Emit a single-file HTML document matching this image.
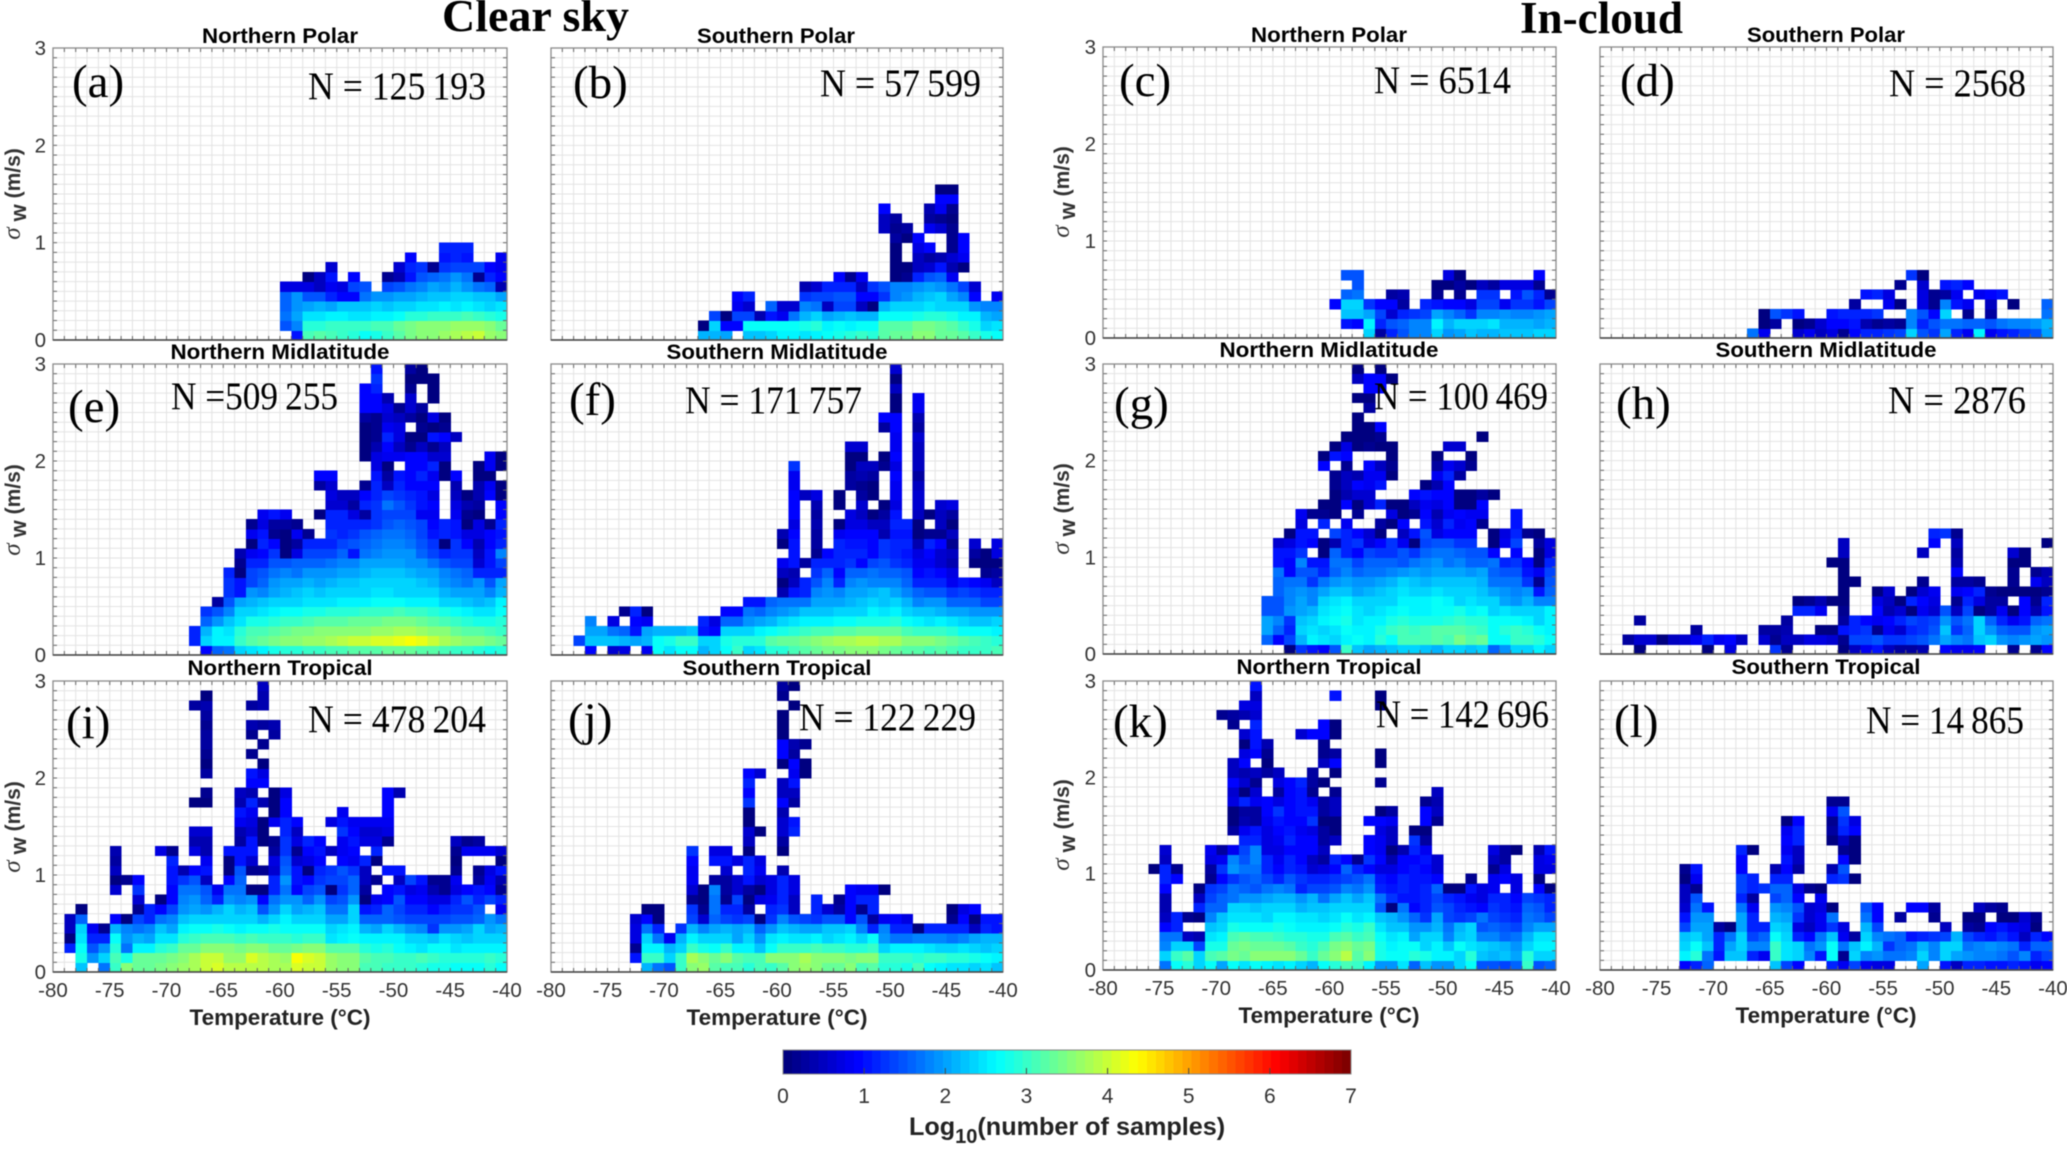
<!DOCTYPE html>
<html lang="en">
<head>
<meta charset="utf-8">
<title>Vertical velocity variance by temperature</title>
<style>
html,body{margin:0;padding:0;background:#fff;width:2067px;height:1149px;overflow:hidden}
svg{display:block;filter:blur(.45px)}
.big{font-family:"Liberation Serif",serif;font-weight:bold;font-size:45px;fill:#000}
.ttl{font-family:"Liberation Sans",sans-serif;font-weight:bold;font-size:21px;fill:#000;text-anchor:middle}
.tag{font-family:"Liberation Serif",serif;font-size:47px;fill:#000}
.cnt{font-family:"Liberation Serif",serif;font-size:39px;fill:#000}
.xl{font-family:"Liberation Sans",sans-serif;font-weight:bold;font-size:22.5px;fill:#222;text-anchor:middle}
.yl{font-family:"Liberation Sans",sans-serif;font-weight:bold;font-size:21px;fill:#333;text-anchor:middle}
.tk{font-family:"Liberation Sans",sans-serif;font-size:20.5px;fill:#333}
.cbk{font-family:"Liberation Sans",sans-serif;font-size:21px;fill:#333}
</style>
</head>
<body>
<svg id="fig" xmlns="http://www.w3.org/2000/svg" width="2067" height="1149" viewBox="0 0 2067 1149">
<rect width="2067" height="1149" fill="#fff"/>
<g id="plots"></g>
<g id="colorbar"></g>

<text class="big" x="442" y="31" textLength="187" lengthAdjust="spacingAndGlyphs">Clear sky</text>
<text class="big" x="1520" y="33" textLength="163" lengthAdjust="spacingAndGlyphs">In-cloud</text>

<text class="ttl" x="280" y="43" textLength="156" lengthAdjust="spacingAndGlyphs">Northern Polar</text>
<text class="ttl" x="776" y="43" textLength="158" lengthAdjust="spacingAndGlyphs">Southern Polar</text>
<text class="ttl" x="1329" y="42" textLength="156" lengthAdjust="spacingAndGlyphs">Northern Polar</text>
<text class="ttl" x="1826" y="42" textLength="158" lengthAdjust="spacingAndGlyphs">Southern Polar</text>
<text class="ttl" x="280" y="359" textLength="219" lengthAdjust="spacingAndGlyphs">Northern Midlatitude</text>
<text class="ttl" x="777" y="359" textLength="221" lengthAdjust="spacingAndGlyphs">Southern Midlatitude</text>
<text class="ttl" x="1329" y="357" textLength="219" lengthAdjust="spacingAndGlyphs">Northern Midlatitude</text>
<text class="ttl" x="1826" y="357" textLength="221" lengthAdjust="spacingAndGlyphs">Southern Midlatitude</text>
<text class="ttl" x="280" y="675" textLength="185" lengthAdjust="spacingAndGlyphs">Northern Tropical</text>
<text class="ttl" x="777" y="675" textLength="189" lengthAdjust="spacingAndGlyphs">Southern Tropical</text>
<text class="ttl" x="1329" y="674" textLength="185" lengthAdjust="spacingAndGlyphs">Northern Tropical</text>
<text class="ttl" x="1826" y="674" textLength="189" lengthAdjust="spacingAndGlyphs">Southern Tropical</text>

<text class="tag" x="72" y="97">(a)</text>
<text class="tag" x="573" y="98">(b)</text>
<text class="tag" x="1119" y="96">(c)</text>
<text class="tag" x="1620" y="96">(d)</text>
<text class="tag" x="68" y="422">(e)</text>
<text class="tag" x="569" y="415">(f)</text>
<text class="tag" x="1114" y="419">(g)</text>
<text class="tag" x="1616" y="419">(h)</text>
<text class="tag" x="66" y="738">(i)</text>
<text class="tag" x="568" y="735">(j)</text>
<text class="tag" x="1113" y="737">(k)</text>
<text class="tag" x="1614" y="737">(l)</text>

<text class="cnt" x="308" y="99" textLength="178" lengthAdjust="spacingAndGlyphs">N = 125&#8201;193</text>
<text class="cnt" x="820" y="96" textLength="161" lengthAdjust="spacingAndGlyphs">N = 57&#8201;599</text>
<text class="cnt" x="1374" y="93" textLength="137" lengthAdjust="spacingAndGlyphs">N = 6514</text>
<text class="cnt" x="1889" y="96" textLength="137" lengthAdjust="spacingAndGlyphs">N = 2568</text>
<text class="cnt" x="171" y="409" textLength="167" lengthAdjust="spacingAndGlyphs">N =509&#8201;255</text>
<text class="cnt" x="685" y="413" textLength="177" lengthAdjust="spacingAndGlyphs">N = 171&#8201;757</text>
<text class="cnt" x="1374" y="409" textLength="174" lengthAdjust="spacingAndGlyphs">N = 100&#8201;469</text>
<text class="cnt" x="1888" y="413" textLength="138" lengthAdjust="spacingAndGlyphs">N = 2876</text>
<text class="cnt" x="308" y="732" textLength="178" lengthAdjust="spacingAndGlyphs">N = 478&#8201;204</text>
<text class="cnt" x="799" y="730" textLength="177" lengthAdjust="spacingAndGlyphs">N = 122&#8201;229</text>
<text class="cnt" x="1376" y="727" textLength="173" lengthAdjust="spacingAndGlyphs">N = 142&#8201;696</text>
<text class="cnt" x="1866" y="733" textLength="158" lengthAdjust="spacingAndGlyphs">N = 14&#8201;865</text>

<text class="xl" x="280" y="1025" textLength="181" lengthAdjust="spacingAndGlyphs">Temperature (°C)</text>
<text class="xl" x="777" y="1025" textLength="181" lengthAdjust="spacingAndGlyphs">Temperature (°C)</text>
<text class="xl" x="1329" y="1023" textLength="181" lengthAdjust="spacingAndGlyphs">Temperature (°C)</text>
<text class="xl" x="1826" y="1023" textLength="181" lengthAdjust="spacingAndGlyphs">Temperature (°C)</text>

<text class="yl" transform="translate(20,194) rotate(-90)"><tspan font-family="Liberation Serif" font-style="italic" font-weight="normal" font-size="25">σ</tspan><tspan dy="6" font-size="22"> w</tspan><tspan dy="-6"> (m/s)</tspan></text>
<text class="yl" transform="translate(1069,192) rotate(-90)"><tspan font-family="Liberation Serif" font-style="italic" font-weight="normal" font-size="25">σ</tspan><tspan dy="6" font-size="22"> w</tspan><tspan dy="-6"> (m/s)</tspan></text>
<text class="yl" transform="translate(20,510) rotate(-90)"><tspan font-family="Liberation Serif" font-style="italic" font-weight="normal" font-size="25">σ</tspan><tspan dy="6" font-size="22"> w</tspan><tspan dy="-6"> (m/s)</tspan></text>
<text class="yl" transform="translate(1069,509) rotate(-90)"><tspan font-family="Liberation Serif" font-style="italic" font-weight="normal" font-size="25">σ</tspan><tspan dy="6" font-size="22"> w</tspan><tspan dy="-6"> (m/s)</tspan></text>
<text class="yl" transform="translate(20,827) rotate(-90)"><tspan font-family="Liberation Serif" font-style="italic" font-weight="normal" font-size="25">σ</tspan><tspan dy="6" font-size="22"> w</tspan><tspan dy="-6"> (m/s)</tspan></text>
<text class="yl" transform="translate(1069,825) rotate(-90)"><tspan font-family="Liberation Serif" font-style="italic" font-weight="normal" font-size="25">σ</tspan><tspan dy="6" font-size="22"> w</tspan><tspan dy="-6"> (m/s)</tspan></text>

<text x="909" y="1135" font-family="Liberation Sans" font-weight="bold" font-size="25.2" fill="#222">Log<tspan dy="8" font-size="20">10</tspan><tspan dy="-8">(number of samples)</tspan></text>
</svg>

<script>
// Each panel: one list per temperature bin (-80 to -40 °C, 1 °C wide).
// Each list: log10(sample count) per sigma-w bin from 0 m/s upward (0.1 m/s wide); _ means no samples.
const _ = null;

const valuesA = [
[],[],[],[],[],[],[],[],[],[],[],[],[],[],[],[],[],[],[],[],
[_,1.5,1.7,1.6,1.6,.7],
[1.0,1.8,2.0,1.9,1.9,.7],
[3.1,2.9,2.5,2.0,1.5,.7,.1],
[3.2,2.9,2.5,2.1,1.5,.5,.5],
[3.1,3.0,2.6,2.0,1.2,.8,1.0,.6],
[3.0,3.0,2.6,2.2,.9,.7],
[2.9,3.0,2.5,2.2,.9,1.4,.9],
[2.7,3.0,2.5,2.2,1.7,1.5],
[2.8,3.1,2.6,2.3,1.9],
[3.0,3.1,2.6,2.2,1.9,1.4,.2],
[3.2,3.3,2.7,2.3,2.0,1.5,.4,.6],
[3.4,3.4,2.9,2.4,2.0,1.7,1.0,1.2,.9],
[3.5,3.5,2.9,2.5,2.1,1.8,1.5,1.3],
[3.6,3.5,3.0,2.5,2.2,2.0,1.6,.2],
[3.7,3.5,3.0,2.6,2.2,1.9,1.7,1.3,1.0,1.1],
[3.8,3.7,3.0,2.5,2.3,2.1,1.9,1.4,1.1,1.2],
[3.9,3.7,3.1,2.6,2.4,1.9,1.7,1.4,1.0,1.1],
[4.0,3.7,3.0,2.5,2.2,1.7,.2,1.4],
[3.7,3.5,2.9,2.4,2.2,1.6,1.2,.9],
[3.6,3.3,2.8,2.5,2.0,.4,.9,.8,.8]
];

const valuesB = [
[],[],[],[],[],[],[],[],[],[],[],[],[],
[2.1,.1],
[2.1,2.4,1.4],
[2.0,.9,.1],
[_,.9,1.4,.8,.9],
[2.2,2.7,1.4,.6,1.2],
[2.2,2.7,.4],
[2.4,2.7,1.0,1.6],
[2.6,2.7,.8,.6],
[2.6,2.7,1.7,.6],
[2.5,2.8,2.1,1.8,1.3,.4],
[2.6,2.9,2.3,1.7,1.4,.6],
[2.7,2.6,2.0,.5,1.4,1.2],
[2.8,2.7,2.1,1.4,1.5,1.2,.9],
[2.9,2.6,2.2,1.4,1.5,1.2,.2],
[3.0,2.7,2.1,.5,.9,.5,.8],
[2.9,2.7,2.1,.1,.9,1.3],
[3.2,3.2,2.7,2.1,1.3,1.5,_,_,_,_,_,.5,.5,.9],
[3.3,3.2,2.7,2.3,1.8,1.8,.1,0,0,0,.3,.2,.3],
[3.3,3.2,2.7,2.3,1.9,1.8,.2,.1,_,_,.1,.3],
[3.5,3.4,2.8,2.4,2.1,1.9,1.2,.5,.5,.7,.9],
[3.5,3.4,2.9,2.5,2.2,2.0,1.5,.6,.3,.9,_,.8,.3,.4],
[3.3,3.3,2.9,2.4,2.3,1.9,1.6,1.0,.4,_,_,.6,.2,.8,.9,0],
[3.3,3.2,2.8,2.4,2.0,1.7,.8,.4,.6,.2,.2,.2,.1,.2,.9,0],
[3.2,3.0,2.6,2.3,1.8,1.4,_,.1,.8,.9,.9],
[3.0,2.8,2.6,1.9,.9,.6],
[2.8,2.4,2.1,1.8],
[2.7,2.5,2.0,1.8,.8]
];

const valuesC = [
[],[],[],[],[],[],[],[],[],[],[],[],[],[],[],[],[],[],[],[],
[_,_,_,.9],
[_,1.0,2.2,2.3,1.6,_,1.5],
[_,.9,2.2,2.3,1.7,1.5,1.5],
[2.4,2.6,2.0,1.3],
[.3,1.2,1.4,.9],
[1.2,1.5,.6,.9,.3],
[1.5,1.6,1.2,.3,.4],
[1.8,1.8,1.3],
[1.8,1.8,1.4,1.1],
[2.3,2.6,2.0,1.0,.2,.1],
[1.9,2.1,1.8,.9,_,.1,.7],
[2.0,2.3,1.6,.9,.2,.3,.1],
[2.2,2.3,1.3,.7,_,.1],
[2.1,2.3,1.8,1.4,1.3,.5],
[2.1,2.5,1.8,1.4,1.3,.3],
[2.2,2.1,1.9,.8,_,.7],
[2.2,2.1,1.8,1.3,1.0,.7],
[2.2,2.1,1.8,1.3,1.5,.7],
[2.3,2.0,1.9,1.0,1.1,.2,.9],
[2.3,2.1,2.0,1.4,.2]
];

const valuesD = [
[],[],[],[],[],[],[],[],[],[],[],[],[],
[1.7],
[.8,.1,.1],
[_,.3,1.5],
[_,_,1.3],
[.6,.1,1.0],
[.8,.2],
[.5,.6],
[.7,.9,1.0],
[.2,.9,1.2],
[.9,1.0,1.2,.3],
[1.2,.4,1.1,_,1.0],
[1.2,.2,1.3,_,1.2],
[1.3,.3,_,.8,.7],
[1.4,.2,_,.1,_,.2],
[2.4,1.8,1.8,_,_,_,1.3],
[1.5,1.2,1.5,.7,.7,.6,.1],
[1.3,1.5,.9,.2,.2],
[2.0,1.7,2.4,1.8,.3,1.0],
[1.2,1.7,_,1.0,.8,1.1],
[.8,1.6,.2,.8,_,.9],
[2.6,1.6,_,_,.8],
[.8,1.5,.3,.5,.9],
[1.0,1.7,_,_,1.0],
[1.1,1.8,_,.1],
[1.4,1.8],
[1.5,1.9],
[2.0,2.1,1.7,1.6]
];

const valuesE = [
[],[],[],[],[],[],[],[],[],[],[],[],
[_,1.2,1.1],
[.9,2.3,2.1,1.6,1.3],
[1.6,2.6,2.6,1.9,1.5,.3],
[1.7,2.6,2.5,2.2,1.8,1.5,1.3,1.3,1.2],
[2.3,3.0,2.9,2.5,2.3,2.0,1.0,1.0,0,.2,.4],
[2.5,3.2,3.1,2.8,2.4,2.1,1.9,1.4,1.4,1.2,.8,.1,.8,.2],
[2.6,3.3,3.1,2.8,2.5,2.2,1.8,1.6,1.5,1.1,.9,1.1,1.0,.7,.8],
[2.8,3.4,3.2,2.9,2.6,2.3,2.0,1.9,1.7,1.5,1.3,.9,.2,.3,1.0],
[2.9,3.5,3.3,3.0,2.7,2.4,2.1,2.0,1.8,1.5,.1,0,0,.3,.8],
[2.9,3.6,3.4,3.0,2.7,2.4,2.2,2.0,1.7,1.6,.7,.3,.8,.2],
[3.0,3.7,3.4,3.1,2.8,2.5,2.3,2.1,1.9,1.6,1.4,1.1,.2],
[3.0,3.7,3.5,3.2,2.8,2.5,2.2,2.0,1.9,1.6,1.4,1.1,_,_,0,_,_,.3,.9],
[3.1,3.8,3.5,3.2,2.9,2.5,2.3,2.1,1.9,1.7,1.4,1.2,1.3,1.1,1.1,.6,.7,.6,.9],
[3.1,3.9,3.6,3.2,2.9,2.6,2.3,2.2,2.0,1.8,1.6,1.4,1.2,1.2,1.2,.6,.5],
[3.2,4.0,3.6,3.3,2.9,2.6,2.4,2.2,2.0,1.8,1.0,1.5,1.3,1.1,.7,.3,.5],
[3.2,4.0,3.6,3.3,3.0,2.6,2.4,2.3,2.1,2.0,1.7,1.6,1.5,1.1,.3,1.1,.9,.2,_,_,.1,0,0,.1,.3,.9,.9,.9],
[3.2,4.1,3.7,3.3,3.0,2.7,2.5,2.3,2.2,2.0,1.8,1.7,1.6,1.3,1.3,1.3,1.2,1.2,1.0,.7,.7,.4,.2,.2,.2,.9,.9,1.2,1.3,1.0],
[3.3,4.1,3.7,3.4,3.0,2.7,2.5,2.3,2.2,2.0,1.9,1.8,1.7,1.5,1.4,1.7,1.4,.5,.3,.1,.8,.9,1.1,.8,.6,.7,.4],
[3.3,4.2,3.8,3.4,3.1,2.7,2.4,2.3,2.2,2.0,1.9,1.8,1.7,1.6,1.4,1.5,1.3,1.1,1.0,_,.8,.5,.7,.7,.5,.2],
[3.3,4.3,3.8,3.4,3.0,2.6,2.4,2.3,2.1,1.9,1.9,1.7,1.6,1.5,1.4,1.3,1.2,.9,.9,.9,.9,.2,.1,_,.3,.6,.6,.2,.1,.3],
[3.2,4.2,3.7,3.3,3.0,2.6,2.4,2.2,2.0,1.9,1.6,1.5,1.4,1.4,.8,1.0,1.0,.9,1.2,.9,.9,.5,0,.2,.1,.3,_,_,.1,.1],
[3.2,4.0,3.6,3.2,2.9,2.6,2.3,2.1,2.0,1.7,1.4,1.3,1.0,.9,.8,.9,.7,.9,.8,1.2,.6,.2,1.0,.1,.7,_,0,.1,0],
[3.1,3.8,3.5,3.1,2.8,2.4,2.1,1.9,1.8,1.5,1.2,.1,1.1,1.1,_,_,_,_,0,0,.6,.5,.9,.2,.1],
[3.0,3.7,3.3,3.0,2.7,2.3,2.0,1.8,1.7,1.4,1.3,1.3,1.0,1.0,.8,.7,.5,.4,.9,_,_,_,.5],
[3.0,3.6,3.2,2.9,2.6,2.2,2.0,1.7,1.6,1.4,1.3,.9,.7,.1,.2,.4,.1],
[2.9,3.5,3.2,2.8,2.5,2.1,2.0,1.9,1.2,.6,.5,.4,.7,.7,.1,.3,.4,.4,.1,0],
[2.8,3.4,3.1,2.8,2.5,2.2,1.8,1.5,1.1,1.0,1.0,.9,.9,.2,_,_,.9,.8,.1,.8,.8],
[2.9,3.3,3.0,2.9,2.7,2.6,2.1,2.0,1.2,1.4,1.8,1.1,1.0,1.2,.9,.9,0,.1,_,0,0]
];

const valuesF = [
[],[],
[_,1.4],
[.9,2.2,2.0,1.8],
[_,2.2,2.0],
[.6,2.2,1.7,.7],
[.7,2.1,1.6,_,.2],
[_,2.0,1.0,.9,1.2],
[.8,2.1,2.0,.8,0],
[2.7,2.7,2.1],
[2.5,2.8,2.1],
[2.7,3.0,2.1],
[2.7,3.0,2.2],
[2.1,2.3,1.0,1.1],
[2.4,2.4,.9,.7],
[2.7,2.8,2.4,1.6,.9],
[3.0,2.9,2.4,1.6,.9],
[2.3,2.9,2.3,1.9,1.7,1.0],
[2.5,2.9,2.6,2.0,1.6,1.0],
[2.9,3.2,2.7,2.1,1.8,1.6],
[2.9,3.3,2.8,2.3,1.9,1.7,.4,.1,.5,.8,_,0,.4],
[3.1,3.3,2.9,2.5,2.0,1.7,1.0,.5,.4,1.0,1.0,1.0,.9,.7,.9,.9,.9,.8,.8,1.3],
[3.2,3.4,3.0,2.6,2.2,1.7,1.1,1.2,_,.3,_,_,_,_,_,_,.5],
[3.3,3.5,3.1,2.6,2.2,2.0,1.8,1.5,1.3,1.2,.2,.3,.3,.4,.3,.4,.7],
[3.4,3.7,3.1,2.6,2.2,2.0,1.9,1.8,1.6,1.2,.9],
[3.4,3.8,3.2,2.7,2.3,2.0,1.8,1.1,.9,1.2,1.1,1.2,.8,.1,_,0,.1],
[3.5,3.8,3.2,2.7,2.3,2.1,2.0,1.8,1.6,1.3,1.2,1.0,.9,.7,.7,_,_,.3,.3,0,.1,.6],
[3.5,3.9,3.3,2.8,2.4,2.2,2.0,1.9,1.6,.9,1.2,1.0,.9,.7,.5,.6,.3,.2,.4,.5,.1,.6],
[3.5,3.9,3.3,2.8,2.6,2.3,2.1,1.8,1.7,1.4,.9,.9,.9,.5,.1,_,.1,0,.3,.5],
[3.4,3.8,3.3,2.8,2.5,2.2,2.2,1.8,1.6,1.5,1.3,1.3,.4,.5,.3,.1,_,_,_,.2,.1,_,_,.3,.9],
[3.3,3.8,3.3,2.9,2.6,2.4,2.0,1.8,1.6,1.3,1.2,1.1,1.0,1.1,1.0,.7,.8,.8,.9,.7,.9,.8,.8,.9,.9,.1,0,.5,.1,.6],
[3.2,3.6,3.1,2.7,2.4,2.1,1.8,1.6,1.5,1.2,1.0,1.1,1.0,1.1],
[3.2,3.5,3.0,2.6,2.2,1.8,1.6,1.1,.9,.8,.7,.4,.1,.1,.5,.6,.6,.5,.3,.5,.5,.5,.6,.3,.4,.8,.8],
[3.1,3.5,3.0,2.5,2.2,1.9,1.5,1.2,1.0,.8,.9,1.1,.2,_,.1],
[3.2,3.4,3.0,2.6,2.1,1.9,1.5,1.1,.9,.6,.6,.9,.2,.5,.5,.6],
[3.1,3.3,2.9,2.5,2.0,1.6,1.3,.8,.7,.4,.5,.2,.5,.1,.3,.7],
[3.0,3.2,2.7,2.3,2.0,1.6,1.4,1.0],
[3.0,3.1,2.7,2.2,1.9,1.6,1.3,.9,_,.1,.3,.6],
[3.0,3.0,2.7,2.2,1.9,1.4,1.2,.8,.2,.1,0],
[3.1,2.9,2.6,2.3,1.9,1.4,1.2,.5,.3,.1,.7,.7]
];

const valuesG = [
[],[],[],[],[],[],[],[],[],[],[],[],[],[],
[_,1.6,2.0,2.0,1.5,1.5],
[_,.9,1.6,1.8,1.5,1.5,1.6,1.6,1.7,1.0,1.0,.6],
[.1,1.4,1.2,1.3,1.9,1.8,1.8,1.7,.9,.9,1.0,.7,.1],
[1.3,2.1,2.3,2.2,2.0,2.0,1.9,1.7,1.5,1.8,1.3,1.0,1.0,.7,.8],
[1.0,2.6,2.5,2.4,2.1,1.8,1.8,1.3,1.5,1.0,_,.9,1.0,_,.2],
[.9,2.5,2.4,2.6,2.5,2.3,2.0,1.7,1.2,1.0,.1,.1,_,1.1,.2,.1,_,_,_,.9,.1],
[1.5,2.4,2.5,2.7,2.6,2.5,2.2,1.9,1.6,1.7,1.6,.4,1.4,_,.1,.1,.1,.2,.2,_,1.0,.1],
[3.0,2.6,2.7,2.8,2.7,2.6,2.2,2.0,1.8,1.7,1.1,1.2,1.1,.8,_,.9,.4,.5,.5,.2,.9,.7,.1],
[2.2,2.7,2.6,2.5,2.5,2.4,2.0,1.9,1.6,1.4,.9,1.3,.9,_,.2,.1,.6,.9,.4,_,_,.1,.1,.1,.1,_,0,_,.5,.1],
[2.0,2.6,2.6,2.6,2.4,2.3,2.1,1.9,1.7,1.6,1.4,.7,.6,_,_,.6,.6,.8,.8,.9,_,.2,0,.1,_,.3,.1,.9,.9],
[2.1,2.9,2.8,2.6,2.5,2.4,2.2,2.0,1.7,1.6,1.3,.9,0,.3,_,1.2,_,1.0,.8,.5,_,.1,.2,.9,_,_,_,.9,.9,.1],
[2.2,2.7,3.0,2.8,2.6,2.4,2.3,2.1,1.8,1.6,1.3,1.3,_,.1,.7,.1,_,_,.1,.2,.1,.1,_,_,_,_,_,_,.1],
[2.4,3.1,3.1,2.9,2.7,2.6,2.5,2.3,1.9,1.5,1.5,.8,.5,.9,.1,.1],
[2.3,3.1,3.0,2.8,2.6,2.6,2.3,2.2,2.0,1.7,1.3,.1,1.0,_,.2,.5,.9],
[2.2,3.1,3.1,2.8,2.6,2.6,2.4,2.1,1.9,1.8,1.6,1.4,1.5,1.0,.9,.8,1.0,.1],
[2.1,3.2,3.2,2.8,2.7,2.7,2.5,2.2,2.0,1.9,1.7,1.5,.7,.6,.4,.7,.9,.4,.8,.3,.1],
[2.3,3.1,3.2,2.9,2.7,2.6,2.4,2.2,2.0,1.7,1.7,1.5,.9,1.1,.8,.9,.9,.9,1.2,.8,_,.6],
[2.3,3.4,3.2,3.0,2.8,2.4,2.3,2.2,2.0,1.8,1.6,1.3,.9,.8,.9,.1,.1,_,.3,.6,_,.6],
[2.2,3.2,3.1,2.9,2.6,2.5,2.3,2.2,1.9,1.6,1.5,1.3,.9,.9,.8,.1,.1,_,_,.2,.1],
[2.4,3.3,3.0,2.9,2.7,2.4,2.2,2.1,2.0,1.6,1.5,_,_,.2,.8,.9,.3,_,_,_,_,_,.1],
[1.6,2.7,2.7,2.7,2.4,2.3,2.0,1.7,1.6,1.7,.9,.1,.1,_,_,_,.1],
[1.9,2.7,2.9,2.7,2.5,2.0,1.9,1.7,1.5,1.2,_,.8,.7],
[2.4,3.0,3.0,2.7,2.4,1.9,1.8,1.7,1.5,1.3,.9,1.4,1.2,1.0,1.0],
[2.3,3.0,2.9,2.6,2.4,2.1,1.9,1.3,1.0,.9,_,_,.2],
[2.6,2.9,2.7,2.4,2.4,1.8,1.0,.2,.8,.1,.1,.3,.1],
[2.4,2.7,2.6,2.6,2.6,1.8,1.6,1.5,1.4,1.2,.7,.7]
];

const valuesH = [
[],[],
[_,.3],
[0,.6,_,.3],
[_,.6],
[_,.1],
[_,.5],
[_,.6],
[_,.8,.3],
[.1,1.2],
[_,.8],
[.7,.9],
[_,.5],
[],
[_,.6,.3],
[1.3,.2,.3],
[.2,.5,.4,.3],
[_,.5,_,_,1.2,.1],
[_,.7,_,_,1.2,.2],
[_,.7,.1,_,.8,.4],
[_,.6,.1,_,_,.1,_,_,_,.1],
[.1,.2,1.0,.3,.2,.1,.1,.1,.1,.1,.5,.5],
[.5,1.4,1.2,1.2,_,_,_,.1],
[.8,1.4,1.3,.9],
[1.0,1.5,.2,.8,.9,.7,.1],
[.5,1.3,.8,.9,.4,.5,.6],
[.3,1.3,.6,1.2,.6,.1],
[.3,1.4,1.2,1.4,0,1.1,.1],
[.4,1.5,1.3,1.3,.8,.9,.6,.2,_,_,.5],
[_,1.7,1.5,1.4,.6,.7,.8,_,_,_,_,.9,1.2],
[.9,2.0,2.2,1.9,1.5,_,_,_,_,_,_,_,1.3],
[.8,1.8,1.3,1.5,.5,.2,.8,.3,.9,.4,.3,.5,.2],
[.8,1.7,1.6,1.7,1.4,1.2,.9,.3],
[.9,2.2,2.4,2.3,0,.7,1.1,.2],
[_,2.4,1.9,1.6,.3,.3,.2],
[_,1.9,1.6,1.1,.8,.3,.1],
[.2,1.8,1.5,.8,.1,_,.1,.2,.2,.1,.6],
[_,1.9,1.5,1.0,.9,.9,.1,_,_,.1,.1],
[.2,2.0,1.9,1.6,.4,.2,.1,.8,.2],
[.9,1.9,2.0,1.7,1.0,1.1,.2,.5,.4,_,_,0]
];

const valuesI = [
[],
[_,_,1.2,.1,.5,.5],
[2.2,2.8,2.7,2.5,2.4,1.6,.1],
[_,1.9,1.5,1.2,.8],
[1.7,2.3,1.9,1.1,.2],
[3.0,3.1,2.9,2.7,2.1,.9,_,_,.6,.1,.5,.3,.4],
[3.5,2.8,1.7,1.9,1.8,.1,_,_,_,.2],
[3.3,3.3,2.6,2.1,1.7,1.4,.2,.6,1.3,.9],
[3.3,3.3,2.6,2.0,1.8,1.2,1.1],
[3.4,3.3,2.9,2.5,2.2,1.7,.9,.1,_,_,_,_,.7],
[3.5,3.4,3.0,2.5,2.0,1.8,1.4,.9,.9,1.0,1.0,1.1,.2],
[3.7,3.6,3.3,2.9,2.6,2.2,1.9,1.8,1.7,1.3,.4],
[3.8,3.8,3.3,3.0,2.7,2.3,2.0,1.9,1.7,1.5,.9,_,.7,.4,.6,_,_,.1,_,_,_,_,_,_,_,_,_,.3],
[4.0,4.0,3.6,3.1,2.7,2.4,1.9,1.6,1.5,.5,1.0,.8,.4,.4,.6,_,_,.1,.2,_,.3,.1,.2,.3,.3,.2,.3,.4,.1],
[4.1,4.0,3.6,3.1,2.8,2.4,2.1,1.1,.8],
[3.9,3.7,3.5,3.1,2.7,2.4,2.4,1.9,1.7,.9,.1,.1,1.0],
[3.9,3.7,3.4,3.0,2.6,2.4,2.1,1.8,1.7,1.6,1.5,1.0,1.0,.3,.4,.8,1.0,.4,.5],
[3.9,4.1,3.6,3.1,2.7,2.4,2.2,1.9,.1,_,.2,.6,1.0,1.0,.6,.7,.8,1.1,.4,.9,1.0,_,.2,_,.2,.4,_,.3],
[3.9,3.9,3.5,3.0,2.7,2.1,1.5,.9,.1,_,.2,_,_,.1,.1,0,_,.4,_,.9,.7,.1,_,.2,_,.3,_,.4,.4,.5],
[3.8,3.8,3.3,3.0,2.8,2.4,1.9,1.7,1.2,1.1,.6,.7,.3,.2,_,.8,.1,0,.1,_,_,_,_,_,.3,.4],
[3.8,3.7,3.3,3.0,2.7,2.6,2.3,1.9,1.7,1.9,1.6,1.5,1.3,1.3,1.2,1.1,.9,.9,.7],
[4.1,4.3,3.4,2.9,2.7,2.3,2.0,1.9,.9,1.0,1.0,.6,.2,.7,.5,.9],
[4.0,4.1,3.5,3.0,2.7,2.4,2.1,1.6,1.4,.9,.1,.7,.9,1.2],
[4.0,4.0,3.5,3.0,2.7,2.4,2.2,1.9,1.5,1.3,1.1,.9,1.0,.9],
[3.7,3.7,3.2,2.5,2.3,2.0,1.7,1.4,0,1.4,1.3,_,.5,_,_,.7],
[3.6,3.6,3.2,2.6,2.5,2.0,1.7,1.5,1.3,1.4,1.5,.9,.8,.8,1.3,1.0,.8],
[3.5,3.6,3.2,2.7,2.6,2.4,2.3,1.9,1.6,1.6,1.3,.8,.9,1.0,.9,.8],
[3.1,3.2,2.9,2.6,2.1,1.6,1.0,.1,.3,.5,.5,1.1,_,.7,.6,.8],
[3.1,3.1,2.8,2.6,2.0,1.6,1.2,.8,_,.2,_,.1,1.1,.7,.6,.8],
[3.0,3.1,2.9,2.6,2.3,1.6,1.6,.9,.9,_,1.0,_,_,.2,.7,.8,.9,.9,.9],
[3.0,3.0,2.7,2.6,2.1,1.5,1.4,1.5,1.0,.5,1.0,_,_,_,_,_,_,_,.4],
[3.0,3.0,2.6,2.3,1.9,1.4,1.2,.9,.7,1.4],
[2.9,3.1,2.5,2.3,1.8,1.4,1.1,.9,.8,1.0],
[2.8,3.0,2.7,2.2,1.3,1.4,.9,.7,.4,.2],
[2.8,2.9,2.7,2.5,1.9,1.4,1.1,.7,.2,.2],
[2.7,2.9,2.5,2.3,1.9,1.5,1.3,1.2,.7,.8,.2,.1,.2,.5],
[2.7,2.9,2.6,2.2,2.0,1.5,1.3,1.5,.9,_,_,_,.8,.2],
[2.7,2.9,2.6,2.4,2.3,1.6,1.5,1.2,1.0,.3,.2,_,.8,.3],
[2.9,3.0,2.6,2.4,2.0,1.9,_,1.4,.9,.8,.7,_,.8],
[2.7,2.9,2.6,2.4,2.1,1.7,.8,1.1,.2,.4,1.0,.1,.6]
];

const valuesJ = [
[],[],[],[],[],[],[],
[_,1.0,.2,.7,.7,.6],
[2.1,3.0,2.6,2.4,1.7,.9,.1],
[1.7,3.0,2.6,1.7,1.1,.1,.1],
[1.5,2.4,2.1,.8],
[3.0,3.0,2.3,2.1,1.3],
[3.6,3.8,3.0,2.6,2.1,1.4,1.3,.2,.6,.8,.8,.9,1.3],
[3.7,3.6,2.8,2.4,1.8,.6,.2,0,.1],
[3.2,3.3,2.7,2.3,2.0,1.6,1.7,1.7,1.8,.3,_,1.0,.7],
[3.1,3.5,3.0,2.4,2.1,1.4,1.1,.2,.3,.3,.6,1.0,.7],
[3.1,3.2,2.6,2.0,2.0,1.3,1.2,1.4,.6,.6,_,.7],
[2.9,3.1,2.6,2.3,2.1,1.4,.3,.1,.3,1.0,1.2,1.1,.1,.5,.6,.1,.1,1.3,.9,1.2,.9],
[3.1,3.1,2.2,1.9,1.6,0,_,.7,0,.6,.8,.7,_,_,.1,_,_,_,_,_,.6],
[3.0,3.5,2.7,2.5,1.9,1.3,1.2,.8,.7,.7],
[3.2,3.5,3.0,2.6,2.2,1.8,1.3,1.2,1.1,1.2,.4,_,.1,.3,.6,.6,.4,.9,.5,.5,_,.1,.9,.9,.1,.1,.1,_,.2,.3],
[3.5,3.6,3.0,2.5,2.1,1.5,.5,.5,.7,.7,_,_,_,_,1.2,1.0,_,.3,.5,1.0,.8,.9,.3,.4,_,_,_,.1,_,.1],
[3.7,3.8,3.0,2.5,2.0,1.4,_,_,_,_,_,_,_,_,_,_,_,_,_,_,.1,.1,_,.2],
[3.5,3.6,3.1,2.6,2.0,1.3,1.1,1.2],
[3.3,3.5,3.0,2.4,2.2,1.5,.6],
[3.3,3.5,3.0,2.5,2.2,1.5,.3,.2],
[3.5,3.4,2.9,2.6,2.3,.9,.9,.9,.9],
[3.1,3.5,2.9,2.4,1.8,1.5,.2,1.1,.8],
[3.2,3.6,3.0,2.7,1.2,.3,1.2,1.2,.8],
[2.9,3.0,2.4,1.9,1.8,.8,_,_,.1],
[2.9,3.0,2.6,1.7,1.1,.9],
[2.8,3.0,2.6,1.7,1.1,.7],
[3.1,2.9,2.6,1.8,0],
[2.7,3.0,2.5,1.8,1.2],
[2.6,3.0,2.4,1.8,1.1],
[2.5,2.9,2.4,1.7,1.2,.2,.1],
[2.5,2.9,2.5,1.8,1.1,.9,.7],
[2.4,2.8,2.3,2.0,.5,.1,.9],
[2.5,2.7,2.2,2.1,1.2,1.0],
[2.2,2.6,2.3,2.1,1.0,1.0]
];

const valuesK = [
[],[],[],[],
[_,_,_,_,_,_,_,_,_,_,.1],
[1.7,2.3,1.8,1.7,.9,.5,.4,.4,.9,1.1,1.1,.5,.6],
[2.7,3.0,2.4,1.7,1.2,1.1,_,_,_,.9,.2],
[2.9,3.2,2.4,.5,_,.2],
[2.3,2.4,1.4,.4,_,.1,1.2,.5,.1],
[2.7,3.1,2.8,2.5,2.2,1.8,1.6,1.4,1.3,.2,.3,.7,.8],
[2.0,3.2,2.8,2.6,2.4,2.2,1.6,1.6,1.4,.9,1.3,.8,.3,_,_,_,_,_,_,_,_,_,_,_,_,_,.2],
[2.7,3.4,3.3,3.1,2.8,2.5,2.3,1.7,1.7,1.3,1.9,1.8,.8,_,.3,.1,0,.7,.6,.9,.5,.5,_,_,_,.2,.3],
[2.5,3.3,3.4,3.2,2.7,2.5,2.3,1.9,1.6,1.5,1.7,1.5,1.4,1.2,.8,.4,.3,1.1,.1,.6,.4,.9,.7,.1,.6,_,.4,.7],
[2.7,3.5,3.3,3.1,2.7,2.5,2.2,1.9,1.5,1.6,1.7,1.8,1.8,1.2,1.0,.3,.3,.8,.6,.2,.5,_,.9,1.0,1.0,1.2,.6,.7,.5,1.0],
[2.6,3.5,3.3,3.1,2.7,2.4,2.3,2.0,1.7,1.4,1.1,1.2,.7,.7,.7,.8,.9,.9,_,_,.3,.1,.2,.4],
[2.5,3.5,3.3,3.0,2.8,2.6,2.4,2.1,1.8,1.2,.9,.8,.7,.8,.9,1.0,1.3,.7,.3,.7,.5],
[2.6,3.6,3.2,2.9,2.7,2.6,2.4,2.1,1.7,1.5,1.2,1.1,.9,1.2,1.0,.9,.9,.9,.9,.9],
[2.4,3.3,3.0,2.9,2.6,2.5,2.1,1.9,1.2,1.3,1.0,.9,.9,.9,.8,.9,1.0,1.0,1.0,1.2,_,_,_,_,.6],
[2.1,3.0,2.9,2.8,2.6,2.5,2.2,2.1,1.4,1.2,.6,.5,.9,.9,.7,1.3,1.0,.8,.2,.3,.3,_,_,_,.9],
[2.7,3.3,3.1,2.8,2.6,2.4,2.2,1.7,1.4,1.2,.7,.3,.5,.3,.3,0,.3,.3,_,.1,_,.5,.2,.2,.9,.9],
[2.9,3.5,3.4,3.1,2.7,2.5,2.3,2.0,1.5,1.3,.9,1.2,_,.5,.1,.1,.5,.5,.2,_,.1,.9,.3,_,0,.1,_,_,1.0],
[3.1,3.9,3.5,3.2,2.9,2.7,2.4,2.2,1.8,1.4,1.6,.9],
[3.0,3.2,3.3,3.0,2.8,2.5,2.4,2.0,1.7,1.5,1.2,.2],
[2.6,3.5,3.4,3.1,3.0,2.6,2.4,2.2,1.9,1.7,.9,1.3,.9,.9,_,.9],
[1.9,2.8,2.8,2.7,2.5,2.2,1.5,1.7,1.1,1.0,.7,.9,.8,.8,.7,.9,.1,_,_,.2,_,.1,.1,_,_,_,_,.1,.1],
[1.9,2.7,2.6,2.5,2.2,2.1,.1,1.3,1.0,.9,.7,.4,.1,.5,.5,.8,.3],
[2.5,2.7,2.7,2.6,2.2,1.9,1.7,1.0,1.1,1.2,.9,.9,.4],
[1.6,2.9,2.7,2.0,1.9,1.6,.9,1.0,1.0,1.0,1.0,.9,1.1,1.3,.1],
[2.2,2.8,2.4,2.3,1.9,1.3,1.2,1.1,1.2,1.0,.9,1.0,.8,.3,.1,.9,.9,.2],
[1.9,2.6,2.6,2.4,2.1,2.0,1.5,1.4,1.6,.9,.6,.6,_,_,_,.2,.5,.4,.5],
[1.9,2.6,2.2,1.8,1.7,1.4,1.4,1.2,0],
[2.3,2.3,2.7,2.2,2.1,1.3,1.1,1.0,0],
[2.7,2.9,2.5,2.4,2.4,1.4,1.0,.8,1.0,.2],
[1.5,2.2,2.3,1.8,1.5,1.7,.9,.7,.7],
[1.5,2.1,2.2,1.8,1.6,1.4,1.3,1.2,.8,.8,.2,.5,.7],
[1.4,2.2,2.1,1.6,1.5,1.3,1.1,1.1,_,.9,.7,.3,.3],
[1.6,2.0,1.9,1.7,1.4,1.2,1.0,.9,.7,.7,_,_,.1],
[3.0,2.9,2.3,2.1,1.8,1.7,1.6,1.4],
[1.5,2.3,2.6,2.5,2.0,1.6,1.5,1.3,.9,0,.7,.7,.4],
[1.6,2.3,2.6,2.5,2.0,1.4,1.1,1.1,.1,_,.7,.8,1.0]
];

const valuesL = [
[],[],[],[],[],[],[],
[.9,2.6,2.4,2.2,1.4,1.0,.6,.5,.5,.1,.2],
[1.2,2.9,2.7,2.3,2.0,1.9,1.7,1.5,.2,.8,1.0],
[1.6,1.7,2.2,2.0,2.0,1.9,1.0],
[_,1.0,1.1,1.2,.3],
[_,2.2,2.0,1.7,.1],
[_,2.2,2.3,2.3,2.0,2.0,1.7,1.1,1.4,1.4,.9,.9,1.2],
[_,1.2,1.8,1.4,1.2,1.2,.8,.3,1.2,1.2,_,_,.1],
[_,.8,1.8,1.6,1.1,_,_,_,1.3],
[2.2,3.0,3.0,2.7,2.4,2.1,1.9,1.4,1.6,1.2,.4],
[1.4,2.5,2.5,2.3,2.2,2.0,1.8,1.6,1.6,1.2,.9,1.0,.8,.9,.8,.1],
[.9,2.3,2.3,1.1,.7,1.3,1.5,.9,.7,_,.3,.5,.5,1.1,1.2,.9],
[_,1.8,1.7,.9,.5,.6,.6,_,.2],
[_,1.0,1.9,1.7,.8,.8,.7,.8,.1],
[1.2,2.7,2.7,2.2,1.3,1.7,.1,_,_,1.2,.4,_,_,.1,.3,.2,.8,.2],
[.8,.2,1.7,.8,.7,_,_,_,_,1.3,1.5,.9,.2,.5,1.1,1.3,1.5,.2],
[1.4,2.4,2.2,.3,_,_,_,_,_,.1,_,.1,.1,.1,.9,.7],
[.8,1.8,2.6,2.3,2.1,1.7,1.5],
[.7,1.9,2.1,1.8,1.4,.9,.9],
[.7,1.7,1.3,1.7],
[_,1.7,1.6,1.6,_,.3],
[_,1.8,1.7,1.0,_,_,.9],
[2.0,2.3,2.1,1.2,_,_,.9],
[_,1.8,1.8,1.3,_,.2,.3],
[1.0,2.3,2.3,1.4,.5],
[.5,2.0,2.4,2.1],
[1.1,1.9,1.7,1.4,.3,.1],
[1.1,1.8,1.8,1.2,.2,0,.5],
[1.0,1.8,1.9,1.0,.9,_,.3],
[1.0,1.7,1.8,1.3,1.0,.1,.2],
[1.2,1.5,1.7,1.0,.8,.1],
[1.0,1.8,1.1,.5,.7,.6],
[.8,1.2,1.6,1.1,.1,.2],
[.9,1.4,1.6,.9]
];

const xTickLabels = [-80,-75,-70,-65,-60,-55,-50,-45,-40];
const yTickLabels = [0,1,2,3];
const colorbarTicks = [0,1,2,3,4,5,6,7];

const tempMin = -80, tempMax = -40, tempBin = 1;
const sigmaMin = 0, sigmaMax = 3, sigmaBin = 0.1;
const logMin = 0, logMax = 7, colorLevels = 64;

const panelLayouts = [
 {id:'a',values:valuesA,left:53,right:507,top:48,bottom:340,yLabels:true,xLabels:false},
 {id:'b',values:valuesB,left:551,right:1003,top:48,bottom:340,yLabels:false,xLabels:false},
 {id:'c',values:valuesC,left:1103,right:1556,top:47,bottom:338,yLabels:true,xLabels:false},
 {id:'d',values:valuesD,left:1600,right:2053,top:47,bottom:338,yLabels:false,xLabels:false},
 {id:'e',values:valuesE,left:53,right:507,top:364,bottom:655,yLabels:true,xLabels:false},
 {id:'f',values:valuesF,left:551,right:1003,top:364,bottom:655,yLabels:false,xLabels:false},
 {id:'g',values:valuesG,left:1103,right:1556,top:364,bottom:654,yLabels:true,xLabels:false},
 {id:'h',values:valuesH,left:1600,right:2053,top:364,bottom:654,yLabels:false,xLabels:false},
 {id:'i',values:valuesI,left:53,right:507,top:681,bottom:972,yLabels:true,xLabels:true},
 {id:'j',values:valuesJ,left:551,right:1003,top:681,bottom:972,yLabels:false,xLabels:true},
 {id:'k',values:valuesK,left:1103,right:1556,top:681,bottom:970,yLabels:true,xLabels:true},
 {id:'l',values:valuesL,left:1600,right:2053,top:681,bottom:970,yLabels:false,xLabels:true}
];

const SVGNS = 'http://www.w3.org/2000/svg';
function make(tag, attrs, parent){
  const el = document.createElementNS(SVGNS, tag);
  for (const k in attrs) el.setAttribute(k, attrs[k]);
  parent.appendChild(el);
  return el;
}
function clamp01(t){ return Math.max(0, Math.min(1, t)); }
function jet(v){
  let t = clamp01((v - logMin) / (logMax - logMin));
  t = Math.min(Math.floor(t * colorLevels), colorLevels - 1) / (colorLevels - 1);
  const r = clamp01(Math.min(4*t - 1.5, -4*t + 4.5));
  const g = clamp01(Math.min(4*t - 0.5, -4*t + 3.5));
  const b = clamp01(Math.min(4*t + 0.5, -4*t + 2.5));
  return 'rgb(' + Math.round(r*255) + ',' + Math.round(g*255) + ',' + Math.round(b*255) + ')';
}

const plots = document.getElementById('plots');
panelLayouts.forEach(function(p){
  const xScale = function(temp){ return p.left + (temp - tempMin) / (tempMax - tempMin) * (p.right - p.left); };
  const yScale = function(s){ return p.bottom - (s - sigmaMin) / (sigmaMax - sigmaMin) * (p.bottom - p.top); };

  const g = make('g', {}, plots);
  
  

  const grid = make('g', {stroke:'#e3e3e3','stroke-width':1}, g);
  
  
  for (let t = tempMin; t <= tempMax; t += tempBin){
    const line = make('line', {x1:xScale(t),x2:xScale(t),y1:p.top,y2:p.bottom}, grid);
    
    
  }
  for (let i = 0; i <= Math.round((sigmaMax - sigmaMin) / sigmaBin); i++){
    const yy = yScale(sigmaMin + i * sigmaBin);
    const line = make('line', {x1:p.left,x2:p.right,y1:yy,y2:yy}, grid);
    
    
  }

  const cells = make('g', {'shape-rendering':'crispEdges'}, g);
  
  
  p.values.forEach(function(column, c){
    const temp = tempMin + c * tempBin;
    column.forEach(function(v, r){
      if (v === null) return;
      const sigma = sigmaMin + r * sigmaBin;
      const x0 = xScale(temp), x1 = xScale(temp + tempBin);
      const y1 = yScale(sigma), y0 = yScale(sigma + sigmaBin);
      const cell = make('rect', {x:x0,y:y0,width:x1-x0+.5,height:y1-y0+.5,fill:jet(v)}, cells);
      
      
    });
  });

  const ticks = make('g', {stroke:'#666','stroke-width':1}, g);
  
  
  for (let t = tempMin + tempBin; t < tempMax; t += tempBin){
    const a = make('line', {x1:xScale(t),x2:xScale(t),y1:p.top,y2:p.top+4}, ticks);
    
    
    const b = make('line', {x1:xScale(t),x2:xScale(t),y1:p.bottom,y2:p.bottom-4}, ticks);
    
    
  }
  for (let i = 1; i < Math.round((sigmaMax - sigmaMin) / sigmaBin); i++){
    const yy = yScale(sigmaMin + i * sigmaBin);
    const a = make('line', {x1:p.left,x2:p.left+4,y1:yy,y2:yy}, ticks);
    
    
    const b = make('line', {x1:p.right,x2:p.right-4,y1:yy,y2:yy}, ticks);
    
    
  }

  const frame = make('rect', {x:p.left,y:p.top,width:p.right-p.left,height:p.bottom-p.top,fill:'none',stroke:'#8a8a8a','stroke-width':1.3}, g);
  
  
  const base = make('line', {x1:p.left,x2:p.right,y1:p.bottom,y2:p.bottom,stroke:'#444','stroke-width':1.6}, g);
  
  

  if (p.yLabels) yTickLabels.forEach(function(v){
    const label = make('text', {x:p.left-7,y:yScale(v)+7,'text-anchor':'end','class':'tk'}, g);
    label.textContent = String(v);
    
    
  });
  if (p.xLabels) xTickLabels.forEach(function(v){
    const label = make('text', {x:xScale(v),y:p.bottom+25,'text-anchor':'middle','class':'tk'}, g);
    label.textContent = String(v);
    
    
  });
});

const cbLeft = 783, cbRight = 1351, cbTop = 1050, cbBottom = 1074;
const cbScale = function(v){ return cbLeft + (v - logMin) / (logMax - logMin) * (cbRight - cbLeft); };
const cb = document.getElementById('colorbar');
const cbStops = make('g', {'shape-rendering':'crispEdges'}, cb);


for (let i = 0; i < colorLevels; i++){
  const v0 = logMin + i / colorLevels * (logMax - logMin);
  const v1 = logMin + (i + 1) / colorLevels * (logMax - logMin);
  const stop = make('rect', {x:cbScale(v0),y:cbTop,width:cbScale(v1)-cbScale(v0)+.5,height:cbBottom-cbTop,fill:jet(v0 + 0.001)}, cbStops);
  
  
}
const cbFrame = make('rect', {x:cbLeft,y:cbTop,width:cbRight-cbLeft,height:cbBottom-cbTop,fill:'none',stroke:'#888','stroke-width':1}, cb);


colorbarTicks.forEach(function(v){
  if (v > logMin && v < logMax){
    const tick = make('line', {x1:cbScale(v),x2:cbScale(v),y1:cbBottom,y2:cbBottom-6,stroke:'#444','stroke-width':1}, cb);
    
    
  }
  const label = make('text', {x:cbScale(v),y:1103,'text-anchor':'middle','class':'cbk'}, cb);
  label.textContent = String(v);
  
  
});
</script>
</body>
</html>
